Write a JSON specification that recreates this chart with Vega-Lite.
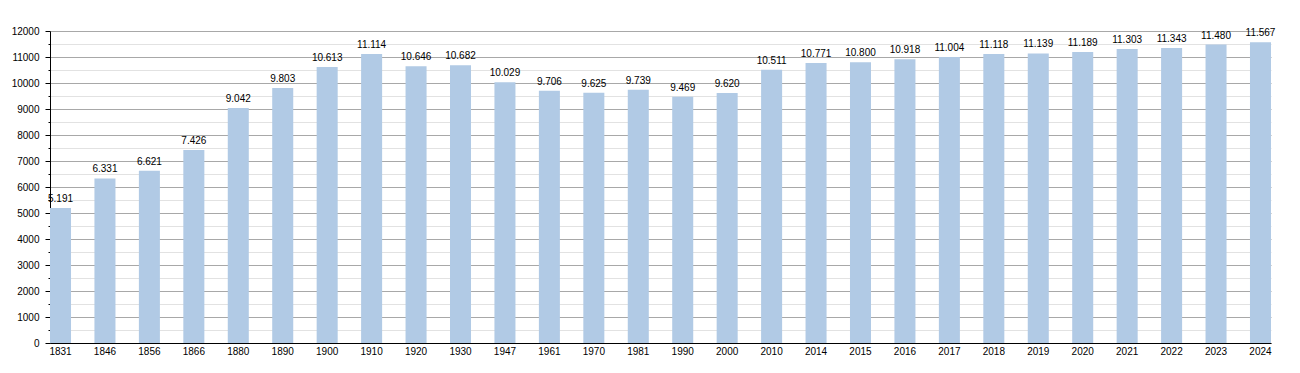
{
  "$schema": "https://vega.github.io/schema/vega-lite/v6.json",
  "width": 1221,
  "height": 312,
  "autosize": {"type": "none"},
  "padding": {"left": 50, "top": 31, "right": 29, "bottom": 30},
  "background": "white",
  "config": {
    "view": {"stroke": null},
    "font": "Liberation Sans",
    "locale": {"number": {"decimal": ",", "thousands": ".", "grouping": [3], "currency": ["", " €"]}}
  },
  "data": {"values": [
    {"year": "1831", "pop": 5191},
    {"year": "1846", "pop": 6331},
    {"year": "1856", "pop": 6621},
    {"year": "1866", "pop": 7426},
    {"year": "1880", "pop": 9042},
    {"year": "1890", "pop": 9803},
    {"year": "1900", "pop": 10613},
    {"year": "1910", "pop": 11114},
    {"year": "1920", "pop": 10646},
    {"year": "1930", "pop": 10682},
    {"year": "1947", "pop": 10029},
    {"year": "1961", "pop": 9706},
    {"year": "1970", "pop": 9625},
    {"year": "1981", "pop": 9739},
    {"year": "1990", "pop": 9469},
    {"year": "2000", "pop": 9620},
    {"year": "2010", "pop": 10511},
    {"year": "2014", "pop": 10771},
    {"year": "2015", "pop": 10800},
    {"year": "2016", "pop": 10918},
    {"year": "2017", "pop": 11004},
    {"year": "2018", "pop": 11118},
    {"year": "2019", "pop": 11139},
    {"year": "2020", "pop": 11189},
    {"year": "2021", "pop": 11303},
    {"year": "2022", "pop": 11343},
    {"year": "2023", "pop": 11480},
    {"year": "2024", "pop": 11567}
  ]},
  "encoding": {
    "x": {
      "field": "year", "type": "ordinal", "sort": null,
      "scale": {"paddingInner": 0.527, "paddingOuter": 0},
      "axis": {"title": null, "labelAngle": 0, "ticks": false, "domainColor": "#000", "labelColor": "#000", "labelFontSize": 10, "labelPadding": 3}
    },
    "y": {
      "field": "pop", "type": "quantitative",
      "scale": {"domain": [0, 12000], "nice": false},
      "axis": {
        "title": null,
        "values": [0,500,1000,1500,2000,2500,3000,3500,4000,4500,5000,5500,6000,6500,7000,7500,8000,8500,9000,9500,10000,10500,11000,11500,12000],
        "labelExpr": "datum.value % 1000 === 0 ? format(datum.value, 'd') : ''",
        "grid": true,
        "gridColor": {"condition": {"test": "datum.value % 1000 === 0", "value": "#a8a8a8"}, "value": "#e2e2e2"},
        "tickSize": {"condition": {"test": "datum.value % 1000 === 0", "value": 5}, "value": 2},
        "tickColor": "#000",
        "domainColor": "#000",
        "labelColor": "#000",
        "labelFontSize": 10,
        "labelPadding": 6
      }
    }
  },
  "layer": [
    {"mark": {"type": "bar", "color": "#b1cae5"}},
    {
      "mark": {"type": "text", "baseline": "bottom", "dy": -4, "fontSize": 10, "color": "#000"},
      "encoding": {"text": {"field": "pop", "type": "quantitative", "format": ",d"}}
    }
  ]
}
